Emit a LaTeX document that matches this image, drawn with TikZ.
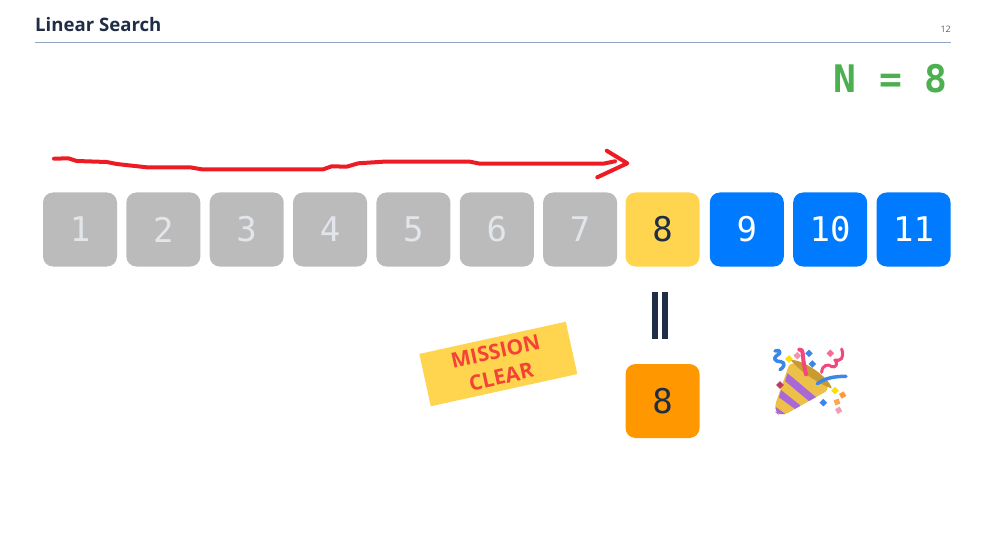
\documentclass[tikz,border=0pt]{standalone}
\usepackage{fontspec}
\setmainfont{Open Sans}
\newfontfamily\cellfont{DejaVu Sans Mono}
\definecolor{slate}{HTML}{1F2D45}
\definecolor{rulecol}{HTML}{8FA3C2}
\definecolor{donecol}{HTML}{BBBBBB}
\definecolor{donetext}{HTML}{E2E6EA}
\definecolor{hitcol}{HTML}{FFD54F}
\definecolor{todocol}{HTML}{007BFF}
\definecolor{keycol}{HTML}{FF9800}
\definecolor{greencol}{HTML}{4CAF50}
\definecolor{redpen}{HTML}{ED1C24}
\definecolor{tagred}{HTML}{F44336}
\definecolor{popgold}{HTML}{EDC04A}
\definecolor{popdark}{HTML}{C99A30}
\definecolor{poppurple}{HTML}{A868D8}
\definecolor{popblue}{HTML}{3C86E8}
\definecolor{poppink}{HTML}{F0487C}
\tikzset{
 cell/.style={rounded corners=10pt,minimum size=74pt,inner sep=0pt,font=\cellfont\fontsize{34}{34}\selectfont},
 donecell/.style={cell,fill=donecol,text=donetext},
 hitcell/.style={cell,fill=hitcol,text=slate},
 todocell/.style={cell,fill=todocol,text=white},
 keycell/.style={cell,fill=keycol,text=slate},
 penline/.style={draw=redpen,line width=4pt,line cap=round,line join=round},
 confetti/.style={line cap=round,line join=round}
}
\begin{document}
\begin{tikzpicture}[x=1pt,y=1pt]
 \useasboundingbox (0,0) rectangle (986,550);
 % header
 \node[anchor=base west,inner sep=0pt,text=slate,font=\bfseries\fontsize{18.6}{20}\selectfont] (title) at (35,518) {Linear Search};
 \node[anchor=base east,inner sep=0pt,text=slate!75,font=\fontsize{9}{9}\selectfont] (pageno) at (951,517) {12};
 \draw[rulecol,line width=1pt](35,507.5)--(951,507.5);
 \node[anchor=base east,inner sep=0pt,text=greencol,font=\cellfont\bfseries\fontsize{38}{38}\selectfont] (count) at (948,457) {N = 8};
 % array
 \foreach \v in {1,...,7}
  \node[donecell] (c\v) at (80+83.35*\v-83.35,320.5) {\raisebox{-1pt}{\v}};
 \node[hitcell] (c8) at (662.5,320.5) {\raisebox{-1pt}{8}};
 \foreach \v in {9,10,11}
  \node[todocell] (c\v) at (80+83.35*\v-83.35,320.5) {\raisebox{-1pt}{\v}};
 % hand drawn arrow
 \draw[penline](54,391.3)--(68.3,391.7)--(76.7,389)--(106.7,388)--(116.7,386)--(146.7,382.7)--(190,382.7)--(201.7,380.7)--(323.3,380.7)--(331.7,383.7)--(346.7,383.3)--(358.3,386.7)--(383.3,388.3)--(470,388.3)--(480,386.3)--(603.3,386.3)--(615,388.7);
 \draw[penline](606.7,399.3)--(627.3,386.7)--(597.3,372.7);
 % equals sign and key
 \fill[slate](652,211) rectangle (658,258);
 \fill[slate](662,211) rectangle (668,258);
 \node[keycell] (key) at (662.5,149) {\raisebox{-1pt}{8}};
 % tag
 \node[fill=hitcol,rotate=12.4,minimum width=150pt,minimum height=53.6pt,inner sep=0pt,align=center,text=tagred,font=\bfseries\fontsize{21}{26}\selectfont] (tag) at (498.3,186) {MISSION\\CLEAR};
 % party popper
 \begin{scope}[xshift=760pt,yshift=215pt,x=0.3333pt,y=-0.3333pt]
  \draw[popblue,confetti,line width=3.5pt](45,48)..controls (62,42) and (65,55)..(50,62)..controls (38,70) and (45,80)..(62,80)..controls (80,82) and (70,100)..(60,104);
  \draw[poppink,confetti,line width=3pt](185,112)..controls (186,90) and (205,85)..(215,95)..controls (228,100) and (235,85)..(225,75)..controls (240,80) and (255,70)..(245,42);
  \fill[popgold,rounded corners=8pt](92,75)--(215,160)--(62,246)--(40,225)--cycle;
  \begin{scope}
   \clip[rounded corners=8pt](92,75)--(215,160)--(62,246)--(40,225)--cycle;
   \fill[poppurple](83,115)--(172,190)--(155,205)--(75,138)--cycle;
   \fill[poppurple](63,165)--(122,212)--(105,222)--(57,187)--cycle;
   \fill[poppurple](46,215)--(80,240)--(68,248)--(42,232)--cycle;
  \end{scope}
  \fill[popdark](92,75)..controls (130,72) and (210,130)..(215,160)..controls (180,150) and (115,105)..(92,75)--cycle;
  \draw[poppink,confetti,line width=4pt](118,44)..controls (130,40) and (128,60)..(130,75)..controls (132,90) and (135,105)..(138,118);
  \draw[popblue,confetti,line width=3.5pt](172,146)..controls (195,130) and (220,124)..(258,124);
  \fill[yellow!80!orange,rotate around={45:(87,72)}](79,64) rectangle (95,80);
  \fill[poppink!60,rotate around={45:(112,62)}](104,54) rectangle (120,70);
  \fill[popblue,rotate around={45:(147,55)}](139,47) rectangle (155,63);
  \fill[popblue,rotate around={45:(157,87)}](149,79) rectangle (165,95);
  \fill[poppink!80,rotate around={45:(211,55)}](203,47) rectangle (219,63);
  \fill[poppink!80!black,rotate around={45:(60,150)}](52,142) rectangle (68,158);
  \fill[yellow!80!orange,rotate around={45:(225,167)}](217,159) rectangle (233,175);
  \fill[orange!80,rotate around={30:(248,180)}](240,172) rectangle (256,188);
  \fill[orange!70,rotate around={20:(231,201)}](223,193) rectangle (239,209);
  \fill[popblue,rotate around={45:(190,203)}](182,195) rectangle (198,211);
  \fill[poppink!55,rotate around={30:(236,226)}](228,218) rectangle (244,234);
 \end{scope}
\end{tikzpicture}
\end{document}
